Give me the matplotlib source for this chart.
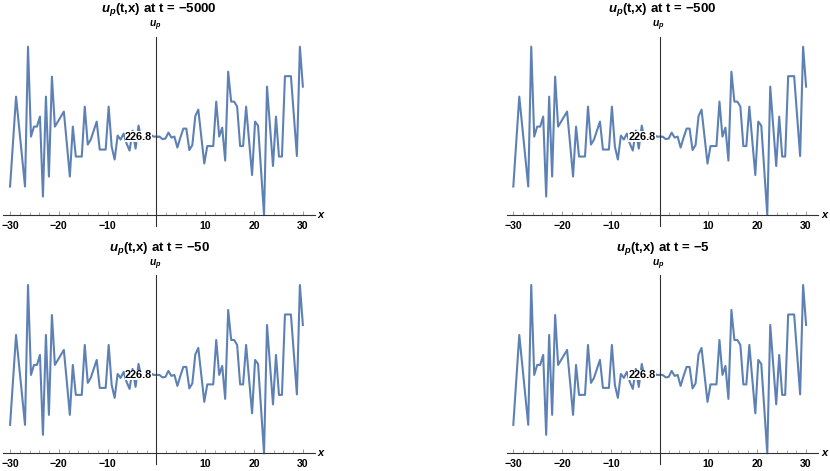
import numpy as np
import matplotlib
matplotlib.use('Agg')
import matplotlib.pyplot as plt
import matplotlib.transforms as mtransforms

plt.rcParams['font.family'] = ['Liberation Sans', 'DejaVu Sans']
plt.rcParams['font.weight'] = 'bold'
plt.rcParams['mathtext.fontset'] = 'custom'
plt.rcParams['mathtext.it'] = 'Liberation Sans:italic:bold'
plt.rcParams['mathtext.rm'] = 'Liberation Sans:bold'
plt.rcParams['axes.unicode_minus'] = True

# the four snapshots, all with the same profile
times = [-5000, -500, -50, -5]

# sample grid (99 points from -30 to 30)
x = np.linspace(-30, 30, 99)

# u_p offset from the 226.8 tick (tiny numerical noise)
dev = [-5.0, -0.5, 4.0, 1.0, -2.0, -5.0, 9.0, 0.0, 1.0, 1.0,
       2.0, -6.0, 4.0, -4.0, 6.0, 1.0, 1.5, 2.0, 2.5, -0.7,
       -4.0, 1.0, -2.0, -2.0, -2.0, 3.0, -0.8, -0.3, 0.6, 1.5,
       -1.3, -1.3, -1.3, 3.0, -1.0, -2.3, 0.1, -0.3, 0.3, -0.7,
       -1.4, 0.6, -1.2, 1.1, -0.4, 0.3, -0.2, 0.2, 0.0, 0.0,
       0.0, -0.25, -0.2, 0.4, -0.1, 0.0, -1.1, -0.1, 0.8, 0.8,
       -1.35, -0.85, 2.05, 2.7, 0.0, -2.7, -0.95, -0.95, -0.95, 3.5,
       0.0, 0.9, -2.4, 6.5, 3.5, 3.5, 3.0, -0.95, -0.95, 3.0,
       -0.45, -3.85, 1.5, 1.1, -3.35, -7.85, 5.0, 1.0, -2.95, 2.0,
       -2.0, -2.0, 6.05, 6.05, 6.05, 2.05, -1.95, 9.0, 5.0]

ytick_label = '226.8'
major_x = [-30, -20, -10, 10, 20, 30]
minor_x = [v for v in range(-30, 31, 2) if v % 10 != 0]

line_color = '#5E81B5'
axis_color = '0.2'

# axes boxes in figure fraction (left, bottom, width, height)
panels = [[0.0042, 0.5202, 0.3754, 0.4019],
          [0.6105, 0.5202, 0.3754, 0.4019],
          [0.0042, 0.0142, 0.3754, 0.4019],
          [0.6105, 0.0142, 0.3754, 0.4019]]

fig = plt.figure(figsize=(8.3, 4.71), dpi=100)

for t, pos in zip(times, panels):
    ax = fig.add_axes(pos)
    ax.patch.set_alpha(0)
    ax.plot(x, dev, color=line_color, lw=1.5, zorder=2)
    ax.set_xlim(-31.35, 32.5)
    ax.set_ylim(-8.95, 10.0)

    ax.spines['top'].set_visible(False)
    ax.spines['right'].set_visible(False)
    ax.spines['left'].set_position(('data', 0))
    ax.spines['bottom'].set_position(('data', min(dev)))
    for s in ['left', 'bottom']:
        ax.spines[s].set_color(axis_color)
        ax.spines[s].set_linewidth(0.8)

    ax.set_xticks(major_x)
    ax.set_xticks(minor_x, minor=True)
    ax.set_xticklabels([str(v).replace('-', '\u2212') for v in major_x],
                       fontweight='bold')
    ax.tick_params(axis='x', which='major', direction='in', length=3.2,
                   width=0.6, color='0.55', labelsize=7.6, pad=4)
    ax.tick_params(axis='x', which='minor', direction='in', length=2,
                   width=0.5, color='0.55')

    # single y tick; its label is drawn on a white patch over the curve
    ax.set_yticks([0])
    ax.set_yticklabels([''])
    ax.tick_params(axis='y', direction='in', length=3, width=0.6,
                   color='0.55')
    ax.annotate(ytick_label, xy=(0, 0), xytext=(-3, 0),
                textcoords='offset points', ha='right', va='center',
                fontsize=7.8, fontweight='bold', zorder=5,
                bbox=dict(facecolor='white', edgecolor='none', pad=0.1))

    ax.text(0.5, 1 + 27 / 189.3,
            r'$u_p$(t,x) at t = ' + str(t).replace('-', '\u2212'),
            transform=ax.transAxes, ha='center', va='center',
            fontsize=9.5, fontweight='bold')
    trans = mtransforms.blended_transform_factory(ax.transData, ax.transAxes)
    ax.text(-0.3, 1 + 10.5 / 189.3, r'$u_p$', transform=trans,
            ha='center', va='center', fontsize=7.5)
    ax.text(33.9, min(dev), r'$x$', ha='center', va='center',
            fontsize=8, clip_on=False)

fig.savefig('out.png', dpi=100)
